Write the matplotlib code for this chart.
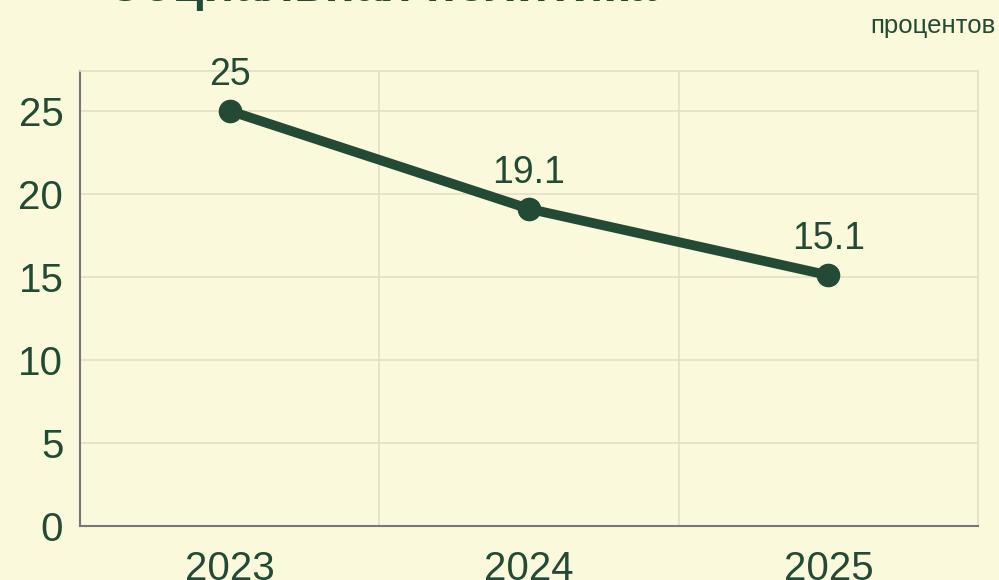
import matplotlib.pyplot as plt

years = ["2023", "2024", "2025"]
values = [25, 19.1, 15.1]
value_labels = ["25", "19.1", "15.1"]
yticks = [0, 5, 10, 15, 20, 25]

bg = "#fbf9dc"
dark = "#234a35"
grid_c = "#e2dfc4"

plt.rcParams["font.family"] = ["Liberation Sans", "DejaVu Sans"]

fig = plt.figure(figsize=(9.99, 5.8), dpi=100, facecolor=bg)
ax = fig.add_axes([80 / 999, 1 - 526 / 580, (978 - 80) / 999, (526 - 71) / 580])
ax.set_facecolor(bg)

x = list(range(len(years)))
ax.plot(x, values, color=dark, lw=7, marker="o", ms=16, zorder=3, solid_capstyle="round")
for xi, v, lab in zip(x, values, value_labels):
    ax.annotate(lab, (xi, v), xytext=(0, 13), textcoords="offset points",
                ha="center", va="bottom", fontsize=27, color=dark)

ax.set_xlim(-0.5, 2.5)
ax.set_ylim(0, 27.4)
ax.set_xticks(x)
ax.set_xticklabels(years)
ax.set_yticks(yticks)
ax.grid(False)
for yv in yticks[1:]:
    ax.axhline(yv, color=grid_c, lw=1.2, zorder=0)
for xv in [0.5, 1.5]:
    ax.axvline(xv, color=grid_c, lw=1.2, zorder=0)

ax.tick_params(axis="both", which="both", length=0, labelsize=29, colors=dark)
ax.tick_params(axis="y", pad=12)
ax.tick_params(axis="x", pad=17)
for s in ["top", "right"]:
    ax.spines[s].set_color(grid_c)
    ax.spines[s].set_linewidth(1.2)
for s in ["left", "bottom"]:
    ax.spines[s].set_color("#76767c")
    ax.spines[s].set_linewidth(1.5)

fig.text(106 / 999, 1 - 1 / 580, "Социальная политика", fontsize=36, fontweight="bold",
         color=dark, ha="left", va="baseline")
fig.text(995 / 999, 1 - 26 / 580, "процентов", fontsize=18.5, color=dark, ha="right", va="center")

fig.savefig("out.png", dpi=100, facecolor=bg)
